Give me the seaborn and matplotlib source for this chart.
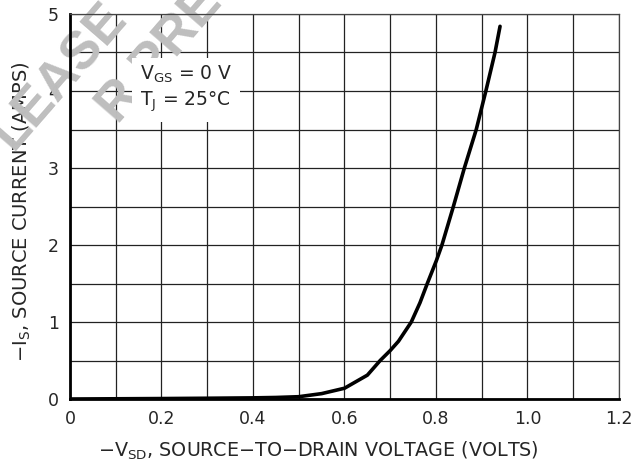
import matplotlib
matplotlib.use("Agg")
import matplotlib.pyplot as plt
import pandas as pd
import seaborn as sns

# curve
v_sd = [0.0, 0.1, 0.2, 0.3, 0.4, 0.45, 0.5, 0.55, 0.6, 0.65, 0.678, 0.7,
        0.718, 0.746, 0.765, 0.781, 0.801, 0.813, 0.838, 0.862, 0.888,
        0.909, 0.929, 0.940]
i_s = [0.0, 0.003, 0.006, 0.01, 0.015, 0.02, 0.03, 0.07, 0.14, 0.31, 0.5, 0.63,
       0.75, 1.0, 1.25, 1.5, 1.8, 2.0, 2.5, 3.0, 3.5,
       4.0, 4.5, 4.84]

x_ticks = [0.0, 0.1, 0.2, 0.3, 0.4, 0.5, 0.6, 0.7, 0.8, 0.9, 1.0, 1.1, 1.2]
x_labels = ["0", "", "0.2", "", "0.4", "", "0.6", "", "0.8", "", "1.0", "", "1.2"]
y_ticks = [0, 0.5, 1, 1.5, 2, 2.5, 3, 3.5, 4, 4.5, 5]
y_labels = ["0", "", "1", "", "2", "", "3", "", "4", "", "5"]

sns.set_style("white")
plt.rcParams["font.family"] = ["DejaVu Sans"]
plt.rcParams["mathtext.fontset"] = "dejavusans"

fig = plt.figure(figsize=(6.35, 4.65), dpi=100)
ax = fig.add_axes([0.1102, 0.1419, 0.8646, 0.828])

df = pd.DataFrame({"v": v_sd, "i": i_s})
sns.lineplot(data=df, x="v", y="i", ax=ax, color="black", linewidth=2.6,
             zorder=4, sort=False)

ax.set_xlim(0, 1.2)
ax.set_ylim(0, 5)
ax.set_xticks(x_ticks)
ax.set_xticklabels(x_labels, fontsize=12.5)
ax.set_yticks(y_ticks)
ax.set_yticklabels(y_labels, fontsize=12.5)
ax.tick_params(length=0, pad=8)
ax.grid(True, color="#222222", linewidth=0.9)
ax.set_axisbelow(True)

for s in ["top", "right"]:
    ax.spines[s].set_color("#444444")
    ax.spines[s].set_linewidth(0.9)
for s in ["left", "bottom"]:
    ax.spines[s].set_color("black")
    ax.spines[s].set_linewidth(2.0)

ax.set_xlabel(r"$-$V$_{\mathregular{SD}}$, SOURCE$-$TO$-$DRAIN VOLTAGE (VOLTS)",
              fontsize=13.8)
ax.set_ylabel(r"$-$I$_{\mathregular{S}}$, SOURCE CURRENT (AMPS)",
              fontsize=14, va="center")
ax.xaxis.set_label_coords(0.452, -0.105)
ax.yaxis.set_label_coords(-0.088, 0.486)

# faint watermark, partly behind the condition box
wm = dict(transform=None, rotation=49, rotation_mode="anchor", color="#bebebe",
          fontsize=38, fontweight="bold", clip_on=False, zorder=2.5,
          ha="center", va="center", family="Liberation Sans")
ax.text(60, 465 - 76, "LEASE", **wm)
ax.text(160, 465 - 55, "R PRE", **wm)

ax.text(0.153, 4.03,
        "V$_{\\mathregular{GS}}$ = 0 V\nT$_{\\mathregular{J}}$ = 25\u00b0C",
        fontsize=13.5, ha="left", va="center", linespacing=1.3, zorder=5,
        bbox=dict(facecolor="white", edgecolor="none", pad=6))

fig.savefig("out.png", dpi=100)
